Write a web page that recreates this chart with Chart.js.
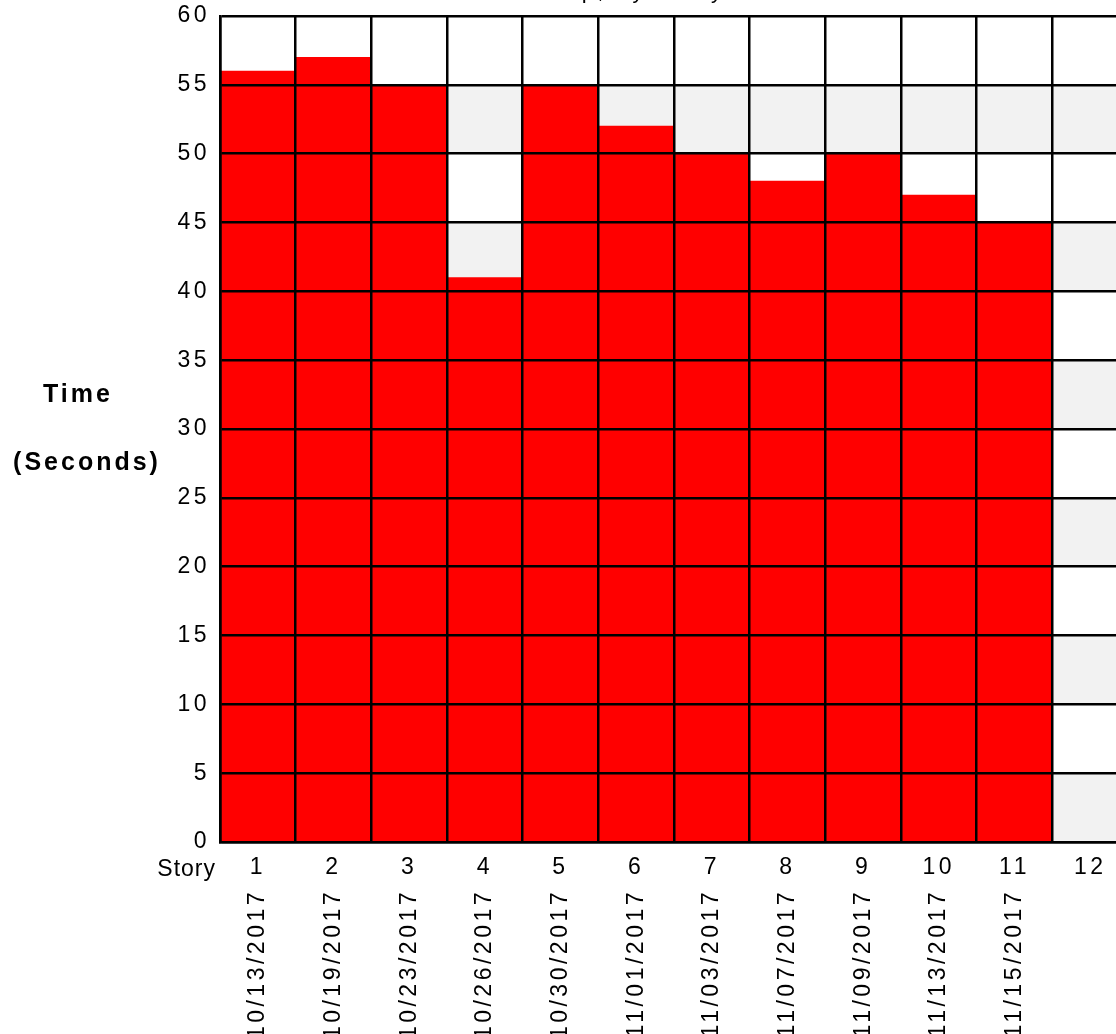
<!DOCTYPE html>
<html>
<head>
<meta charset="utf-8">
<script src="https://cdn.jsdelivr.net/npm/chart.js@4/dist/chart.umd.min.js"></script>
<style>
  html, body { margin: 0; padding: 0; background: #fff; overflow: hidden; }
  #wrap { position: relative; width: 1116px; height: 1034px; overflow: hidden; }
  #chart { position: absolute; left: 0; top: -21px; }
</style>
</head>
<body>
<div id="wrap"><canvas id="chart" width="1128" height="1073"></canvas></div>
<script>
// 데이터
const titleText = "Time to Set Up, by Story";
const stories = ["1", "2", "3", "4", "5", "6", "7", "8", "9", "10", "11", "12"]; // X축 번호
const dates = [
  "10/13/2017", "10/19/2017", "10/23/2017", "10/26/2017", "10/30/2017", "11/01/2017",
  "11/03/2017", "11/07/2017", "11/09/2017", "11/13/2017", "11/15/2017", "",
]; // 날짜 라벨
const times = [56, 57, 55, 41, 55, 52, 50, 48, 50, 47, 45, null]; // 초 단위
const yMin = 0;
const yMax = 60;
const yStep = 5;

const FONT = "'Liberation Sans', Arial, sans-serif";
Chart.defaults.font.family = FONT;
Chart.defaults.color = "#000";

// 글자 간격 (canvas letterSpacing)
const spacing = {
  id: "spacing",
  beforeUpdate(chart) { chart.ctx.letterSpacing = "3.5px"; },
  beforeDraw(chart) { chart.ctx.letterSpacing = "3.5px"; },
};

// 회색/흰색 줄무늬 배경
const bands = {
  id: "bands",
  beforeDatasetsDraw(chart) {
    const { ctx, chartArea, scales: { y } } = chart;
    ctx.save();
    ctx.fillStyle = "#f2f2f2";
    y.ticks.forEach((t, i) => {
      if (i < y.ticks.length - 1 && i % 2 === 0) {
        const bottom = y.getPixelForValue(t.value);
        const top = y.getPixelForValue(y.ticks[i + 1].value);
        ctx.fillRect(chartArea.left, top, chartArea.right - chartArea.left, bottom - top);
      }
    });
    ctx.restore();
  },
};

// 축 제목 (가로 글씨)
const axisText = {
  id: "axisText",
  afterDraw(chart) {
    const { ctx, chartArea } = chart;
    const mid = (chartArea.top + chartArea.bottom) / 2;
    ctx.save();
    ctx.fillStyle = "#000";
    ctx.letterSpacing = "3px";
    ctx.font = "bold 25px " + FONT;
    ctx.textAlign = "center";
    ctx.textBaseline = "middle";
    ctx.fillText("Time", chartArea.left - 142, mid - 34);
    ctx.fillText("(Seconds)", chartArea.left - 133, mid + 34);
    ctx.letterSpacing = "1px";
    ctx.font = "23px " + FONT;
    ctx.textAlign = "right";
    ctx.textBaseline = "alphabetic";
    ctx.fillText("Story", chartArea.left - 4, chartArea.bottom + 34);
    ctx.restore();
  },
};

const data = {
  labels: stories,
  datasets: [
    {
      label: "Time",
      data: times,
      backgroundColor: "#ff0000",
      borderWidth: 0,
      barPercentage: 1,
      categoryPercentage: 1,
      xAxisID: "x",
      yAxisID: "y",
    },
  ],
};

const config = {
  type: "bar",
  data: data,
  options: {
    responsive: false,
    animation: false,
    devicePixelRatio: 1,
    layout: { padding: 0 },
    scales: {
      x: {
        type: "category",
        offset: true,
        weight: 0,
        grid: { color: "#000", lineWidth: 2.5, offset: true, drawTicks: false, z: 1 },
        border: { color: "#000", width: 2.5, z: 1 },
        ticks: { color: "#000", font: { size: 23 }, padding: 12, maxRotation: 0, autoSkip: false },
        afterFit(s) { s.height = 40; },
      },
      x2: {
        type: "category",
        labels: dates,
        offset: true,
        position: "bottom",
        weight: 1,
        grid: { display: false, drawTicks: false },
        border: { display: false },
        ticks: { color: "#000", font: { size: 23 }, padding: 7, minRotation: 90, maxRotation: 90, autoSkip: false },
        afterFit(s) { s.height = 170; },
      },
      y: {
        min: yMin,
        max: yMax,
        grid: { color: "#000", lineWidth: 2.5, drawTicks: false, z: 1 },
        border: { color: "#000", width: 2.5, z: 1 },
        ticks: { stepSize: yStep, color: "#000", font: { size: 23 }, padding: 10 },
        afterFit(s) { s.width = 220; },
      },
    },
    plugins: {
      legend: { display: false },
      tooltip: { enabled: false },
      title: {
        display: true,
        text: titleText,
        color: "#000",
        font: { size: 22, weight: "normal" },
        padding: { top: 0, bottom: 10.6 },
      },
    },
  },
  plugins: [spacing, bands, axisText],
};

const myChart = new Chart(document.getElementById("chart").getContext("2d"), config);
</script>
</body>
</html>
